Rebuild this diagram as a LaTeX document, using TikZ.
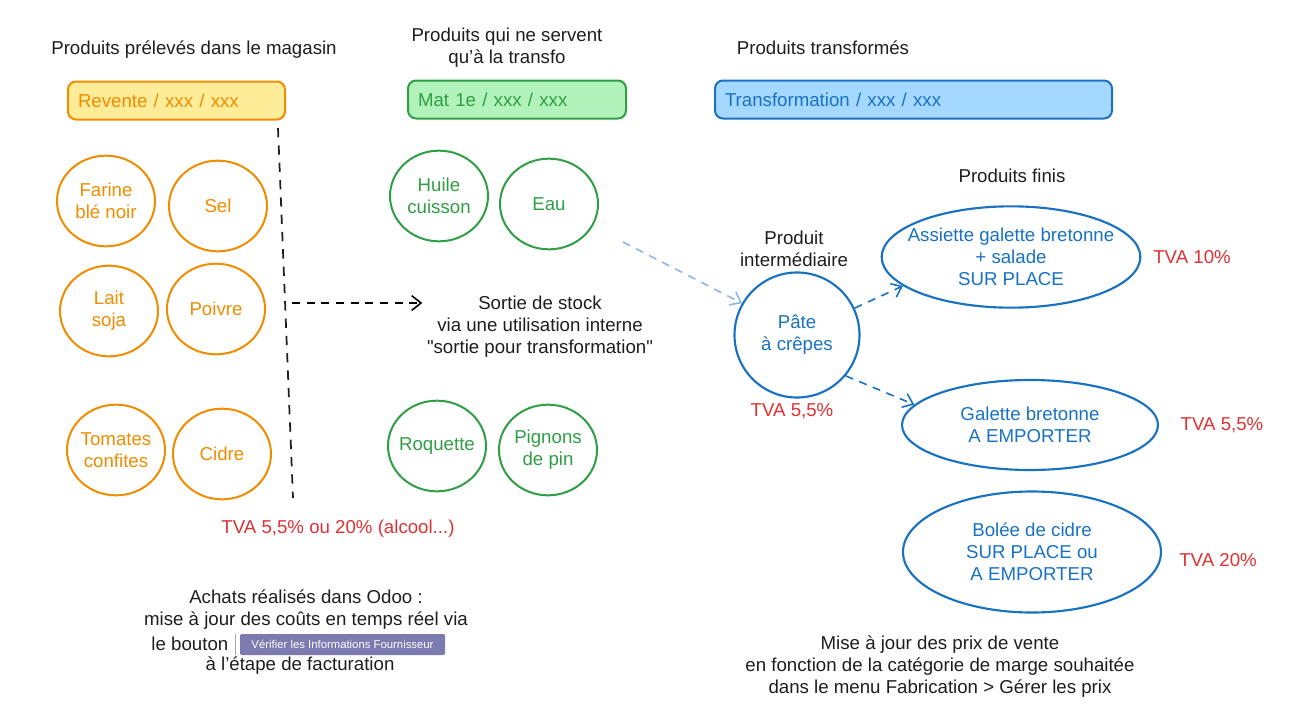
\documentclass[tikz,border=0pt]{standalone}
\usepackage{fontspec}
\setmainfont{Liberation Sans}
\usetikzlibrary{shapes.geometric,arrows.meta}

\definecolor{orangeline}{HTML}{F08C00}
\definecolor{orangefill}{HTML}{FFEC99}
\definecolor{greenline}{HTML}{2F9E44}
\definecolor{greenfill}{HTML}{B2F2BB}
\definecolor{blueline}{HTML}{1971C2}
\definecolor{bluefill}{HTML}{A5D8FF}
\definecolor{lightblue}{HTML}{8AB8E6}
\definecolor{tvared}{HTML}{E03131}
\definecolor{inkblack}{HTML}{1E1E1E}
\definecolor{buttonfill}{HTML}{7C7BB0}

\begin{document}
\begin{tikzpicture}[x=0.75pt,y=-0.75pt,
  every node/.style={font=\fontsize{14}{16.5}\selectfont, text=inkblack},
  catbox/.style={rectangle, rounded corners=6pt, line width=1.5pt, align=left, inner xsep=7.5pt, minimum height=28.5pt},
  orangebox/.style={catbox, draw=orangeline, fill=orangefill, text=orangeline},
  greenbox/.style={catbox, draw=greenline, fill=greenfill, text=greenline},
  bluebox/.style={catbox, draw=blueline, fill=bluefill, text=blueline},
  ingredient/.style={ellipse, inner xsep=-8pt, inner ysep=0pt, minimum width=73.5pt, minimum height=68pt, line width=1.5pt, align=center},
  resale/.style={ingredient, draw=orangeline, text=orangeline},
  rawmat/.style={ingredient, draw=greenline, text=greenline},
  product/.style={ellipse, inner xsep=-20pt, inner ysep=0pt, draw=blueline, text=blueline, line width=1.6pt, align=center},
  tva/.style={text=tvared},
  flow/.style={dash pattern=on 6pt off 5pt, line width=1.2pt, -{Straight Barb[length=7pt,width=11pt]}},
  separator/.style={dash pattern=on 7pt off 6pt, line width=1.3pt, inkblack},
  bouton/.style={fill=buttonfill, text=white, font=\fontsize{8.5}{10}\selectfont, minimum width=153.75pt, minimum height=15.75pt, inner sep=0pt, rounded corners=1pt}]
\useasboundingbox (0,0) rectangle (1304,721);

% titles
\node (magasin) at (194,50) {Produits prélevés dans le magasin};
\node[align=center] (servent) at (507,48) {Produits qui ne servent\\qu'à la transfo};
\node (transformes) at (823,48) {Produits transformés};

% category boxes
\node[orangebox, text width=147.75pt] (revente) at (176.5,100.5) {Revente / xxx / xxx};
\node[greenbox, text width=148.5pt] (matiere) at (517,99.5) {Mat 1e / xxx / xxx};
\node[bluebox, text width=282.75pt] (transformation) at (913.5,99.5) {Transformation / xxx / xxx};

% store products
\node[resale] (farine) at (106,201) {Farine\\blé noir};
\node[resale] (sel) at (218,206) {Sel};
\node[resale] (lait) at (109,311) {Lait\\soja};
\node[resale] (poivre) at (216,309) {Poivre};
\node[resale] (tomates) at (116,450) {Tomates\\confites};
\node[resale] (cidre) at (222,454) {Cidre};

\draw[separator] (278,128) -- (293,498);
\coordinate (split) at (292,303);

% raw materials
\node[rawmat] (huile) at (439,196) {Huile\\cuisson};
\node[rawmat] (eau) at (549,204) {Eau};
\node[rawmat] (roquette) at (437,446) {Roquette};
\node[rawmat] (pignons) at (548,450) {Pignons\\de pin};

\node[align=center] (sortie) at (540,327) {Sortie de stock\\via une utilisation interne\\\textquotedbl sortie pour transformation\textquotedbl};
\draw[flow] (split) -- (split -| sortie.west);

% transformed products
\node[align=center] (intermediaire) at (794,249) {Produit\\intermédiaire};
\node[product, minimum width=93.75pt, minimum height=93.75pt] (pate) at (797,335) {Pâte\\à crêpes};
\node[tva] (tvapate) at (792,411) {TVA 5,5\%};

\node (finis) at (1012,176) {Produits finis};
\node[product, minimum width=194pt, minimum height=76pt] (assiette) at (1011,257) {Assiette galette bretonne\\+ salade\\SUR PLACE};
\node[product, minimum width=192pt, minimum height=67.5pt] (galette) at (1030,425) {Galette bretonne\\A EMPORTER};
\node[product, minimum width=193.5pt, minimum height=90.75pt] (bolee) at (1032,552) {Bolée de cidre\\SUR PLACE ou\\A EMPORTER};
\node[tva] (tvaassiette) at (1192,257) {TVA 10\%};
\node[tva] (tvagalette) at (1222,425) {TVA 5,5\%};
\node[tva] (tvabolee) at (1218,560) {TVA 20\%};

\coordinate (eauout) at (623,242);
\draw[flow, lightblue] (eauout) -- (pate.150);
\draw[flow, blueline] (pate.25) -- (assiette.195);
\draw[flow, blueline] (pate.-40) -- (galette.170);

% notes
\node[tva] (tvamagasin) at (338,529) {TVA 5,5\% ou 20\% (alcool...)};
\node[align=center] (achats) at (306,610) {Achats réalisés dans Odoo :\\mise à jour des coûts en temps réel via};
\node[anchor=east] (lebouton) at (233,644) {le bouton};
\node[bouton] (verifier) at (342.5,644.5) {Vérifier les Informations Fournisseur};
\draw[buttonfill!70, line width=0.8pt] ([xshift=-3pt]verifier.north west) -- ([xshift=-3pt]verifier.south west);
\node (etape) at (300,666) {à l'étape de facturation};

\node[align=center] (prix) at (940,667) {Mise à jour des prix de vente\\en fonction de la catégorie de marge souhaitée\\dans le menu Fabrication > Gérer les prix};
\end{tikzpicture}
\end{document}
